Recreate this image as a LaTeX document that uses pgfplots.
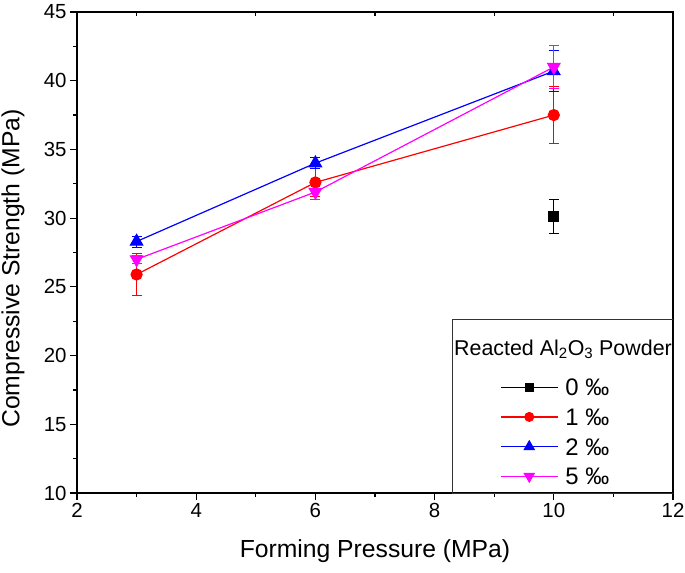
\documentclass[border=0pt]{standalone}
\usepackage{fontspec}
\setmainfont{Liberation Sans}
\usepackage{pgfplots}
\pgfplotsset{compat=1.18}
\definecolor{mag}{RGB}{255,0,255}
\begin{document}
\begin{tikzpicture}
\path[use as bounding box] (0,0) rectangle (685bp,573bp);
\begin{axis}[
  at={(77bp,80bp)}, anchor=south west,
  scale only axis, width=596bp, height=481bp,
  xmin=2, xmax=12, ymin=10, ymax=45,
  xtick={2,4,...,12}, ytick={10,15,...,45},
  minor x tick num=1, minor y tick num=1,
  tick align=outside,
  xtick pos=bottom, ytick pos=left,
  major tick length=7bp, minor tick length=4bp,
  axis line style={line width=1.6bp},
  every tick/.style={black, line width=1.2bp},
  tick label style={font=\fontsize{20.5}{24}\selectfont},
  /pgf/number format/assume math mode=true,
  xlabel={Forming Pressure (MPa)},
  ylabel={Compressive Strength (MPa)},
  label style={font=\fontsize{24.8}{28}\selectfont},
  xlabel style={at={(axis description cs:0.5,-0.1206)}, anchor=center},
  ylabel style={at={(axis description cs:-0.1074,0.4667)}, anchor=center},
  legend image code/.code={%
    \draw[mark repeat=2,mark phase=2,#1,every mark/.append style={scale=0.8}]
      plot coordinates {(0bp,0bp) (28.5bp,0bp) (57bp,0bp)};},
  legend style={at={(rel axis cs:0.7097,0.238)}, anchor=north west,
    draw=none, fill=none, inner sep=0pt,
    font=\fontsize{24}{28}\selectfont,
    nodes={inner sep=0pt, text height=17bp, text depth=0bp},
    row sep=12.7bp, column sep=7bp},
  legend cell align=left,
  error bars/error bar style={line width=1bp},
  error bars/error mark options={rotate=90, mark size=5bp, line width=1bp},
]
\addplot[black, line width=1.2bp, mark=square*, mark size=5bp,
  error bars/.cd, y dir=both, y explicit] coordinates {
  (10,30.1) +- (0,1.25)
};
\addlegendentry{0 ‰}
\addplot[red, line width=1.2bp, mark=*, mark size=5.5bp,
  error bars/.cd, y dir=both, y explicit] coordinates {
  (3,25.9) +- (0,1.5)
  (6,32.6) +- (0,1.0)
  (10,37.5) +- (0,2.05)
};
\addlegendentry{1 ‰}
\addplot[blue, line width=1.2bp, mark=triangle*, mark size=7bp,
  error bars/.cd, y dir=both, y explicit] coordinates {
  (3,28.3) +- (0,0.4)
  (6,34.0) +- (0,0.4)
  (10,40.7) +- (0,1.5)
};
\addlegendentry{2 ‰}
\addplot[mag, line width=1.2bp, mark=triangle*, mark size=7bp, mark options={rotate=180},
  error bars/.cd, y dir=both, y explicit] coordinates {
  (3,27.0) +- (0,0.3)
  (6,31.9) +- (0,0.55)
  (10,41.0) +- (0,1.55)
};
\addlegendentry{5 ‰}
\draw[line width=1bp, black!80] (rel axis cs:0.630,0) rectangle (rel axis cs:1,0.361);
\node[font=\fontsize{21.5}{25}\selectfont] at (rel axis cs:0.8154,0.299) {Reacted Al\textsubscript{2}O\textsubscript{3} Powder};
\end{axis}
\begin{axis}[
  at={(77bp,80bp)}, anchor=south west,
  scale only axis, width=596bp, height=481bp,
  xmin=2, xmax=12, ymin=10, ymax=45,
  axis x line*=top, axis y line=none,
  xtick={3,5,7,9,11}, xticklabels={}, ytick=\empty,
  tick align=inside, major tick length=4bp,
  axis line style={line width=1.6bp},
  every tick/.style={black, line width=1.2bp},
]
\end{axis}
\end{tikzpicture}
\end{document}
